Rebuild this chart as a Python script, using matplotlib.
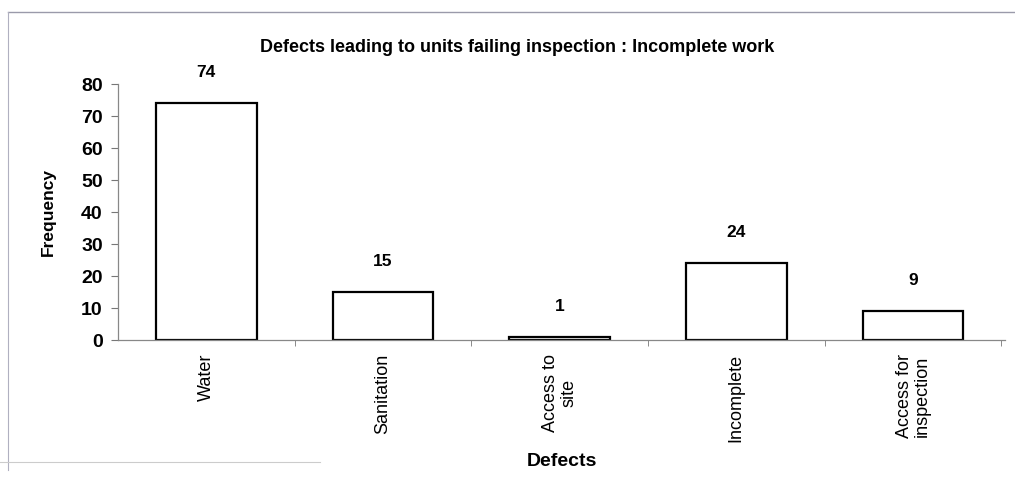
import matplotlib.pyplot as plt
from matplotlib.lines import Line2D

# defect counts for units that failed inspection
defects = ["Water", "Sanitation", "Access to\nsite", "Incomplete", "Access for\ninspection"]
frequency = [74, 15, 1, 24, 9]
y_ticks = [0, 10, 20, 30, 40, 50, 60, 70, 80]

narrow = ["Liberation Sans Narrow", "Liberation Sans", "DejaVu Sans"]
plain = ["Liberation Sans", "DejaVu Sans"]

fig = plt.figure(figsize=(10.15, 4.84), dpi=100)
ax = fig.add_axes([0.1163, 0.2975, 0.8737, 0.5289])

x = range(len(defects))
bars = ax.bar(x, frequency, width=0.57, color="white", edgecolor="black", linewidth=1.6)

for rect, val in zip(bars, frequency):
    ax.annotate(str(val), (rect.get_x() + rect.get_width() / 2, val),
                xytext=(0, 22), textcoords="offset points", ha="center", va="center",
                fontsize=12.5, fontweight="bold", family=narrow)

ax.set_xlim(-0.5, 4.52)
ax.set_ylim(0, 80)
ax.set_yticks(y_ticks)
ax.set_yticklabels([str(t) for t in y_ticks], fontsize=14, fontweight="bold", family=narrow)

# category labels sit at the centres, tick marks fall between categories
ax.set_xticks(list(x))
ax.set_xticklabels(defects, rotation=90, fontsize=13, family=plain, linespacing=1.05)
ax.tick_params(axis="x", length=0, pad=10)
ax.set_xticks([i + 0.5 for i in range(len(defects))], minor=True)
ax.tick_params(axis="x", which="minor", length=4, direction="out", color="#777777")
ax.tick_params(axis="y", length=5, direction="out", color="#777777", pad=6)

for side in ["top", "right"]:
    ax.spines[side].set_visible(False)
for side in ["left", "bottom"]:
    ax.spines[side].set_color("#888888")
    ax.spines[side].set_linewidth(0.9)

ax.set_ylabel("Frequency", fontsize=12.5, fontweight="bold", family=plain, labelpad=18)
ax.set_xlabel("Defects", fontsize=14, fontweight="bold", family=narrow, labelpad=8)

fig.text(517 / 1015, 1 - 47 / 484, "Defects leading to units failing inspection : Incomplete work",
         ha="center", va="center", fontsize=13, fontweight="bold", family=narrow)

# outer chart border
fig.add_artist(Line2D([8 / 1015, 1.0], [1 - 12 / 484, 1 - 12 / 484], color="#9a9aaa", linewidth=1.0))
fig.add_artist(Line2D([8 / 1015, 8 / 1015], [1 - 12 / 484, 1 - 470 / 484], color="#b0b0c0", linewidth=0.8))
fig.add_artist(Line2D([0, 320 / 1015], [1 - 462 / 484, 1 - 462 / 484], color="#cccccc", linewidth=0.8))

fig.savefig("out.png", dpi=100)
